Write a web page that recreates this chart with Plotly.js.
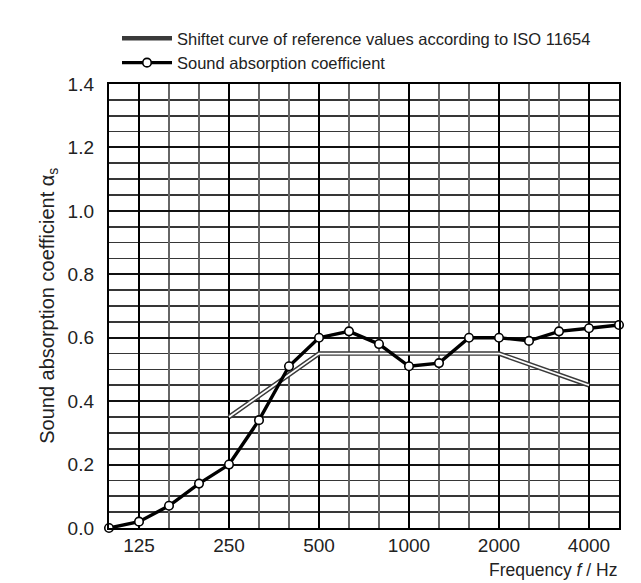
<!DOCTYPE html>
<html>
<head>
<meta charset="utf-8">
<script src="https://cdn.plot.ly/plotly-3.0.1.min.js"></script>
<style>
  html, body { margin: 0; padding: 0; background: #fff; }
  #chart { width: 641px; height: 583px; }
  #frameV { position: absolute; left: 29px; top: 8px; width: 1px; height: 508px; background: #c4c4c4; }
  #frameH { position: absolute; left: 14px; top: 516px; width: 16px; height: 1px; background: #c4c4c4; }
</style>
</head>
<body>
<div id="frameV"></div>
<div id="frameH"></div>
<div id="chart"></div>
<script>
// One-third octave band centre frequencies (Hz)
const bands = ["100","125","160","200","250","315","400","500","630","800",
               "1000","1250","1600","2000","2500","3150","4000","5000"];
// Measured sound absorption coefficient per band
const alphaS = [0.00,0.02,0.07,0.14,0.20,0.34,0.51,0.60,0.62,0.58,
                0.51,0.52,0.60,0.60,0.59,0.62,0.63,0.64];
// Shifted reference curve (ISO 11654)
const refBands = ["250","500","1000","2000","4000"];
const refValues = [0.35,0.55,0.55,0.55,0.45];
// Octave tick labels
const octaveLabels = ["125","250","500","1000","2000","4000"];

const font = "Liberation Sans, Arial, sans-serif";

const traces = [
  { x: refBands, y: refValues, type: "scatter", mode: "lines",
    name: "Shiftet curve of reference values according to ISO 11654",
    line: { color: "#3a3a3a", width: 4.6 }, cliponaxis: false },
  { x: refBands, y: refValues, type: "scatter", mode: "lines",
    showlegend: false, hoverinfo: "skip",
    line: { color: "#ffffff", width: 1.7 }, cliponaxis: false },
  { x: bands, y: alphaS, type: "scatter", mode: "lines+markers",
    name: "Sound absorption coefficient",
    line: { color: "#000000", width: 3.4 },
    marker: { symbol: "circle", size: 8.5, color: "#ffffff",
              line: { color: "#000000", width: 1.6 } },
    cliponaxis: false },
  { x: [bands[0]], y: [0], xaxis: "x2", yaxis: "y", type: "scatter",
    mode: "none", showlegend: false, hoverinfo: "skip" }
];

const layout = {
  width: 641, height: 583,
  margin: { l: 109, r: 22, t: 84, b: 55 },
  paper_bgcolor: "#ffffff", plot_bgcolor: "#ffffff",
  font: { family: font, color: "#222222" },
  showlegend: true,
  legend: {
    x: 0.0157, xanchor: "left", y: 1.142, yanchor: "top",
    font: { family: font, size: 16.5, color: "#222222" },
    itemwidth: 50, bgcolor: "rgba(0,0,0,0)", tracegroupgap: 0
  },
  xaxis: {
    type: "category", categoryorder: "array", categoryarray: bands,
    range: [0, 17], tickvals: bands, showticklabels: false,
    showgrid: true, gridcolor: "#666666", gridwidth: 1.8,
    showline: true, linecolor: "#000000", linewidth: 2.2, mirror: true,
    ticks: "", zeroline: false, fixedrange: true
  },
  xaxis2: {
    type: "category", categoryorder: "array", categoryarray: bands,
    range: [0, 17], overlaying: "x", anchor: "y", side: "bottom",
    tickvals: octaveLabels, ticktext: octaveLabels, showticklabels: true,
    ticks: "", ticklabelstandoff: 4,
    tickfont: { family: font, size: 19, color: "#222222" },
    showgrid: true, gridcolor: "#000000", gridwidth: 2.2,
    showline: false, zeroline: false, fixedrange: true
  },
  yaxis: {
    range: [0, 1.4], dtick: 0.2, tick0: 0, tickformat: ".1f",
    showgrid: true, gridcolor: "#111111", gridwidth: 2,
    minor: { dtick: 0.05, showgrid: true, gridcolor: "#363636", gridwidth: 1.6, ticks: "" },
    showline: true, linecolor: "#000000", linewidth: 2.2, mirror: true,
    ticks: "", ticklabelstandoff: 9,
    tickfont: { family: font, size: 19, color: "#222222" },
    zeroline: false, fixedrange: true
  },
  annotations: [
    { text: "Sound absorption coefficient α<sub>s</sub>", textangle: -90,
      xref: "paper", yref: "paper", x: -0.12, y: 0.5,
      xanchor: "center", yanchor: "middle", showarrow: false,
      font: { family: font, size: 20, color: "#222222" } },
    { text: "Frequency <i>f</i> / Hz",
      xref: "paper", yref: "paper", x: 1.0, y: -0.095,
      xanchor: "right", yanchor: "middle", showarrow: false,
      font: { family: font, size: 17.5, color: "#222222" } }
  ]
};

Plotly.newPlot("chart", traces, layout, { displayModeBar: false, staticPlot: true });
</script>
</body>
</html>
